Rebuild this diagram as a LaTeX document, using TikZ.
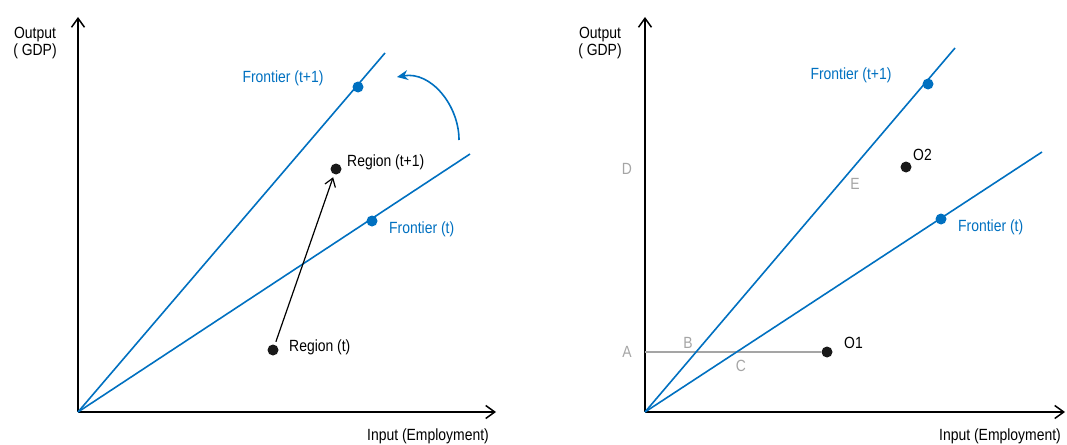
\documentclass[tikz,border=0pt]{standalone}
\usepackage{fontspec}
\setmainfont{Liberation Sans}[FakeStretch=0.86]
\usetikzlibrary{arrows.meta}
\definecolor{frontblue}{RGB}{0,112,192}
\definecolor{guidegray}{RGB}{165,165,165}
\tikzset{
  axis/.style={line width=1.5pt, -{Straight Barb[length=9pt,width=13pt,line width=1.5pt]}},
  frontier/.style={frontblue, line width=1.6pt},
  bdot/.style={circle, fill=frontblue, inner sep=0pt, minimum size=11pt},
  kdot/.style={circle, fill=black!90, inner sep=0pt, minimum size=11pt},
  lbl/.style={inner sep=1pt},
  glbl/.style={inner sep=1pt, text=guidegray},
}
\begin{document}
\begin{tikzpicture}[x=1pt, y=-1pt, font=\fontsize{16.2}{17}\selectfont]
  \useasboundingbox (0,0) rectangle (1067,444);
  % left panel
  \coordinate (O) at (78,412);
  \coordinate (YTop) at (78,17);
  \coordinate (XEnd) at (496,412);
  \coordinate (FnEnd) at (385,53);
  \coordinate (FoEnd) at (470,154);
  \draw[axis] (O) -- (YTop);
  \draw[axis] (O) -- (XEnd);
  \node[lbl, align=center] (yl) at (35,43) {Output\\( GDP)};
  \node[lbl] (xl) at (428,436) {Input (Employment)};
  \draw[frontier] (O) -- (FnEnd);
  \draw[frontier] (O) -- (FoEnd);
  \node[bdot] (FnDot) at (358,87) {};
  \node[bdot] (FoDot) at (372,221) {};
  \node[lbl, text=frontblue] (FnLbl) at (283,78) {Frontier (t+1)};
  \node[lbl, text=frontblue, anchor=west] (FoLbl) at (388,229) {Frontier (t)};
  \node[kdot] (RNew) at (336,169) {};
  \node[kdot] (ROld) at (273,350) {};
  \node[lbl, anchor=west] at (346,162) {Region (t+1)};
  \node[lbl, anchor=west] at (288,347) {Region (t)};
  \draw[line width=1.2pt, -{Straight Barb[length=8pt,width=11pt,line width=1.2pt]}, shorten <=3pt, shorten >=3pt] (ROld) -- (RNew);
  \coordinate (ShiftA) at (459,140);
  \coordinate (ShiftB) at (397,77);
  \draw[frontblue, line width=1.6pt, -{Stealth[length=11pt,width=10pt]}] (ShiftA) to[out=90, in=10] (ShiftB);
  % right panel
  \coordinate (P) at (645,412);
  \coordinate (PTop) at (645,17);
  \coordinate (PEnd) at (1065,412);
  \coordinate (GnEnd) at (955,48);
  \coordinate (GoEnd) at (1042,152);
  \coordinate (A) at (645,352);
  \draw[axis] (P) -- (PTop);
  \draw[axis] (P) -- (PEnd);
  \node[lbl, align=center] (yr) at (600,43) {Output\\( GDP)};
  \node[lbl] (xr) at (1000,436) {Input (Employment)};
  \node[kdot] (OOne) at (827,352) {};
  \draw[guidegray, line width=1.4pt] (A) -- (OOne);
  \draw[frontier] (P) -- (GnEnd);
  \draw[frontier] (P) -- (GoEnd);
  \node[bdot] (GnDot) at (928,84) {};
  \node[bdot] (GoDot) at (941,219) {};
  \node[lbl, text=frontblue] (GnLbl) at (851,75) {Frontier (t+1)};
  \node[lbl, text=frontblue, anchor=west] (GoLbl) at (957,227) {Frontier (t)};
  \node[kdot] (OTwo) at (906,167) {};
  \node[lbl, anchor=west] at (912,155) {O2};
  \node[lbl, anchor=west] at (843,343) {O1};
  \node[glbl] at (627,352) {A};
  \node[glbl] at (688,343) {B};
  \node[glbl] at (741,366) {C};
  \node[glbl] at (627,169) {D};
  \node[glbl] at (855,184) {E};
\end{tikzpicture}
\end{document}
